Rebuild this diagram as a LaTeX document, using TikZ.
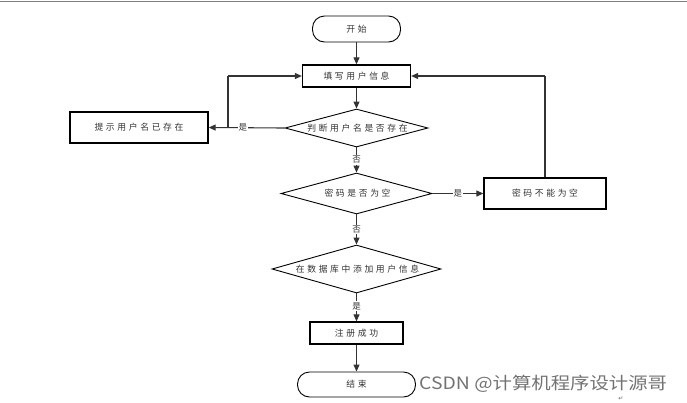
\documentclass[tikz,border=0pt]{standalone}
\usepackage{fontspec}
\setmainfont{Liberation Serif}
\newfontfamily\cjk{Noto Sans CJK SC}
\newfontfamily\cjksp[LetterSpace=30]{Noto Sans CJK SC}
\newfontfamily\symf{DejaVu Sans}
\usetikzlibrary{shapes.geometric,arrows.meta}
\begin{document}
\begin{tikzpicture}[x=1pt,y=-1pt,
  every node/.style={font=\cjksp\fontsize{8.8}{9}\selectfont, text=black!80},
  box/.style={draw, line width=1.3pt, minimum width=#1, minimum height=23pt, inner sep=0pt},
  term/.style={draw, line width=0.9pt, rounded corners=12pt, minimum width=#1, minimum height=25pt, inner sep=0pt},
  dec/.style={draw, line width=0.9pt, diamond, inner sep=0pt},
  lbl/.style={fill=white, inner sep=1pt, font=\cjk\fontsize{8.5}{9}\selectfont},
  arr/.style={line width=1.1pt, draw=black!80, -{Triangle[length=7pt,width=6pt]}},
  ln/.style={line width=1.1pt, draw=black!80}]
\useasboundingbox (0,0) rectangle (687,402);
\draw[gray, line width=1.2pt] (0,1.5) -- (687,1.5);

\node[term=88pt, minimum height=26pt] (start) at (356.5,29) {开始};
\node[box=108pt, minimum height=22pt] (fill) at (356.5,76) {填写用户信息};
\node[dec, minimum width=143pt, minimum height=38pt] (d1) at (356.5,128) {};
\node (d1t) at (357.5,128) {判断用户名是否存在};
\node[box=138pt, minimum height=31pt] (exist) at (139,127.5) {提示用户名已存在};
\node[dec, minimum width=151pt, minimum height=41pt] (d2) at (356.5,193.5) {};
\node (d2t) at (357.5,193.5) {密码是否为空};
\node[box=122pt, minimum height=31pt] (empty) at (545,193.5) {密码不能为空};
\node[dec, minimum width=169pt, minimum height=48pt] (d3) at (356.5,269) {};
\node (d3t) at (357.5,269) {在数据库中添加用户信息};
\node[box=93pt, minimum height=22pt] (ok) at (356.5,333) {注册成功};
\node[term=118pt, minimum height=25pt] (end) at (356.5,384.5) {结束};

\coordinate (c1) at (228,128);
\coordinate (c2) at (228,76);
\coordinate (c3) at (545,76);

\draw[arr] (start) -- (fill);
\draw[arr] (fill) -- (d1);
\draw[arr] (d1.west) -- node[lbl, pos=0.55]{是} (exist.east);
\draw[ln] (c1) -- (c2);
\draw[arr] (c2) -- (fill.west);
\draw[arr] (d1.south) -- node[lbl, pos=0.5]{否} (d2.north);
\draw[arr] (d2.east) -- node[lbl, pos=0.5]{是} (empty.west);
\draw[ln] (empty.north) -- (c3);
\draw[arr] (c3) -- (fill.east);
\draw[arr] (d2.south) -- node[lbl, pos=0.5]{否} (d3.north);
\draw[arr] (d3.south) -- node[lbl, pos=0.45]{是} (ok.north);
\draw[arr] (ok) -- (end);

\node[font=\cjk\fontsize{17}{19}\selectfont, text=black!55, anchor=west, inner sep=0pt, xscale=1.14] (wm) at (419,384) {CSDN @计算机程序设计源哥};
\node[font=\symf\fontsize{6}{6}\selectfont, text=black!60, inner sep=0pt] (mk) at (621,399) {↵};
\end{tikzpicture}
\end{document}
